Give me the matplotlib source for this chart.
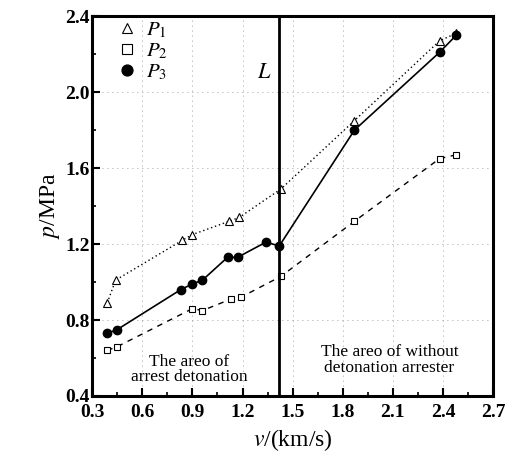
import matplotlib
matplotlib.use("Agg")
import matplotlib.pyplot as plt
from matplotlib.ticker import MultipleLocator

plt.rcParams['font.family'] = ['Liberation Serif', 'DejaVu Serif']
plt.rcParams['mathtext.fontset'] = 'stix'

# velocity (km/s) and pressure (MPa)
v1 = [0.39, 0.44, 0.84, 0.90, 1.12, 1.18, 1.43, 1.87, 2.38, 2.48]
p1 = [0.89, 1.01, 1.22, 1.25, 1.32, 1.34, 1.49, 1.85, 2.27, 2.31]

v2 = [0.39, 0.45, 0.90, 0.96, 1.13, 1.19, 1.43, 1.87, 2.38, 2.48]
p2 = [0.64, 0.66, 0.86, 0.85, 0.91, 0.92, 1.03, 1.32, 1.65, 1.67]

v3 = [0.39, 0.45, 0.83, 0.90, 0.96, 1.11, 1.17, 1.34, 1.42, 1.87, 2.38, 2.48]
p3 = [0.73, 0.75, 0.96, 0.99, 1.01, 1.13, 1.13, 1.21, 1.19, 1.80, 2.21, 2.30]

v_limit = 1.42

fig = plt.figure(figsize=(5.24, 4.61), dpi=100)
ax = fig.add_axes([0.176, 0.141, 0.765, 0.824])

ax.plot(v1, p1, linestyle=(0, (1, 2)), color='black', lw=1.0, marker='^',
        mfc='white', mec='black', ms=5.5, mew=0.8, label=r'$P_1$')
ax.plot(v2, p2, linestyle=(0, (4, 4)), color='black', lw=1.0, marker='s',
        mfc='white', mec='black', ms=5, mew=0.8, label=r'$P_2$')
ax.plot(v3, p3, linestyle='-', color='black', lw=1.2, marker='o',
        mfc='black', mec='black', ms=6, label=r'$P_3$')

ax.axvline(v_limit, color='black', lw=2)
ax.text(1.33, 2.1, r'$L$', fontsize=16, ha='center', va='center')

ax.text(0.88, 0.54, 'The areo of\narrest detonation', fontsize=12.5,
        ha='center', va='center', linespacing=0.95)
ax.text(2.08, 0.59, 'The areo of without\ndetonation arrester', fontsize=12.5,
        ha='center', va='center', linespacing=0.95)

ax.set_xlim(0.3, 2.7)
ax.set_ylim(0.4, 2.4)
ax.xaxis.set_major_locator(MultipleLocator(0.3))
ax.xaxis.set_minor_locator(MultipleLocator(0.15))
ax.yaxis.set_major_locator(MultipleLocator(0.4))
ax.yaxis.set_minor_locator(MultipleLocator(0.2))
ax.xaxis.set_major_formatter(matplotlib.ticker.FormatStrFormatter('%.1f'))
ax.yaxis.set_major_formatter(matplotlib.ticker.FormatStrFormatter('%.1f'))
ax.tick_params(which='major', direction='in', length=6, width=1.5,
               labelsize=14, pad=2)
ax.tick_params(axis='x', which='major', pad=6)
ax.tick_params(which='minor', direction='in', length=3, width=1.2)
for lab in ax.get_xticklabels() + ax.get_yticklabels():
    lab.set_fontweight('bold')

ax.grid(True, which='major', linestyle=(0, (1, 5)), color='gray', lw=0.6)
for s in ax.spines.values():
    s.set_linewidth(2.2)

ax.set_xlabel(r'$v$/(km/s)', fontsize=17, labelpad=4)
ax.set_ylabel(r'$p$/MPa', fontsize=17, labelpad=2)

leg = ax.legend(loc='upper left', bbox_to_anchor=(0.04, 1.02), frameon=False,
                fontsize=15, handlelength=0.6, handletextpad=0.6,
                labelspacing=0.05, borderaxespad=0.2, markerscale=1.3)
for h in leg.legend_handles:
    h.set_linestyle('None')

fig.savefig('out.png', dpi=100)
